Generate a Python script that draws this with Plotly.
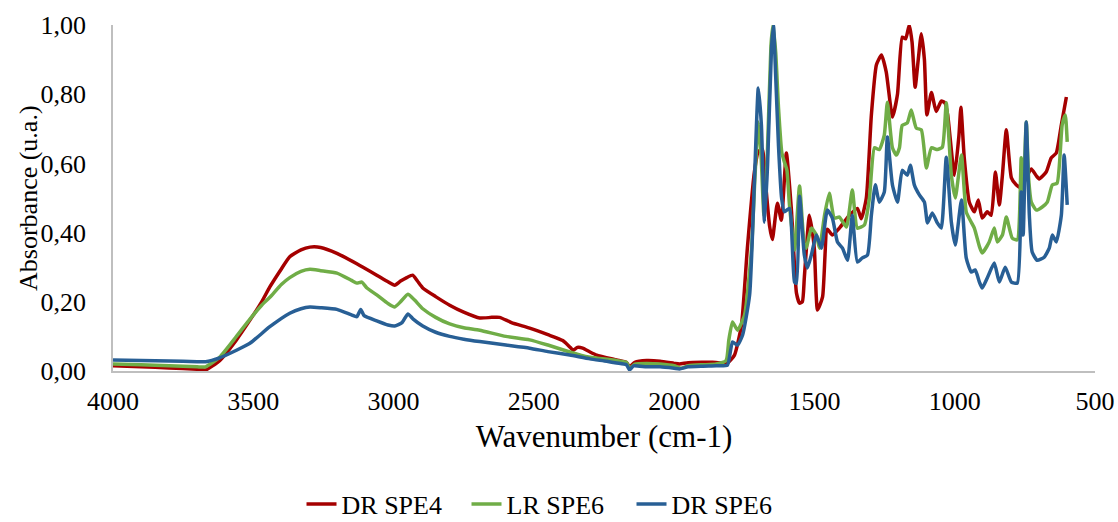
import plotly.graph_objects as go

# FTIR spectra: wavenumber (cm-1) and normalised absorbance (u.a.)
wn_dr_spe4 = [4000, 3900, 3800, 3700, 3670, 3620, 3560, 3512, 3470, 3441, 3400, 3370, 3330, 3298,
              3260, 3202, 3131, 3060, 3020, 2996, 2975, 2953, 2932, 2915, 2896, 2850, 2800, 2750,
              2693, 2650, 2622, 2580, 2515, 2450, 2397, 2370, 2360, 2345, 2326, 2300, 2276, 2205,
              2170, 2159, 2140, 2098, 2050, 2000, 1981, 1950, 1900, 1863, 1828, 1810, 1785, 1760,
              1739, 1714, 1700, 1685, 1675, 1660, 1650, 1632, 1618, 1600, 1582, 1564, 1553, 1543,
              1536, 1518, 1507, 1500, 1489, 1471, 1454, 1436, 1411, 1375, 1347, 1333, 1315, 1297,
              1279, 1261, 1244, 1222, 1204, 1187, 1175, 1162, 1152, 1141, 1130, 1119, 1108, 1099,
              1083, 1066, 1048, 1035, 1025, 1001, 985, 978, 966, 948, 930, 916, 902, 884, 870, 855,
              841, 830, 816, 798, 781, 763, 745, 727, 710, 699, 674, 656, 638, 620, 602]
abs_dr_spe4 = [0.015, 0.012, 0.009, 0.005, 0.003, 0.03, 0.09, 0.147, 0.2, 0.243, 0.295, 0.33, 0.35, 0.358,
               0.357, 0.34, 0.31, 0.277, 0.258, 0.248, 0.26, 0.27, 0.277, 0.26, 0.24, 0.215, 0.19, 0.17,
               0.153, 0.155, 0.155, 0.14, 0.124, 0.105, 0.088, 0.068, 0.06, 0.068, 0.066, 0.055, 0.046, 0.032,
               0.025, 0.012, 0.025, 0.03, 0.028, 0.022, 0.02, 0.024, 0.025, 0.025, 0.023, 0.023, 0.046, 0.133,
               0.355, 0.575, 0.635, 0.64, 0.55, 0.42, 0.38, 0.485, 0.436, 0.63, 0.465, 0.225, 0.196, 0.2,
               0.27, 0.45, 0.40, 0.35, 0.176, 0.214, 0.41, 0.393, 0.413, 0.45, 0.47, 0.44, 0.5, 0.74,
               0.885, 0.913, 0.864, 0.734, 0.80, 0.965, 0.96, 1.0, 0.95, 0.82, 0.9, 0.975, 0.9, 0.74,
               0.805, 0.75, 0.78, 0.775, 0.74, 0.566, 0.68, 0.762, 0.616, 0.488, 0.46, 0.494, 0.442, 0.46, 0.45, 0.575,
               0.48, 0.566, 0.697, 0.558, 0.538, 0.529, 0.56, 0.584, 0.565, 0.555, 0.575, 0.616, 0.63, 0.711, 0.792]

wn_lr_spe6 = [4000, 3900, 3800, 3700, 3670, 3620, 3560, 3512, 3470, 3441, 3400, 3370, 3330, 3298,
              3260, 3202, 3150, 3131, 3113, 3095, 3060, 3020, 2996, 2975, 2949, 2925, 2896, 2850,
              2800, 2750, 2693, 2600, 2515, 2450, 2372, 2330, 2300, 2205, 2170, 2159, 2140, 2098,
              2050, 2000, 1975, 1950, 1900, 1850, 1815, 1805, 1792, 1774, 1749, 1724, 1712, 1700,
              1690, 1680, 1668, 1655, 1648, 1638, 1628, 1616, 1607, 1598, 1589, 1571, 1553, 1536,
              1529, 1511, 1493, 1482, 1464, 1447, 1429, 1411, 1386, 1365, 1347, 1322, 1304, 1286,
              1269, 1251, 1240, 1222, 1208, 1197, 1187, 1169, 1155, 1137, 1119, 1101, 1083, 1062,
              1044, 1030, 1012, 998, 976, 959, 941, 930, 912, 902, 877, 859, 848, 830, 816, 795,
              777, 763, 756, 745, 736, 727, 709, 688, 670, 652, 635, 617, 606, 599]
abs_lr_spe6 = [0.02, 0.018, 0.015, 0.012, 0.012, 0.04, 0.1, 0.15, 0.19, 0.213, 0.25, 0.27, 0.288, 0.294,
               0.29, 0.283, 0.262, 0.254, 0.257, 0.24, 0.22, 0.195, 0.185, 0.2, 0.222, 0.205, 0.18, 0.155,
               0.136, 0.125, 0.118, 0.1, 0.09, 0.075, 0.055, 0.045, 0.04, 0.03, 0.025, 0.008, 0.02, 0.022,
               0.02, 0.015, 0.008, 0.015, 0.018, 0.02, 0.03, 0.09, 0.142, 0.118, 0.162, 0.355, 0.56, 0.72,
               0.62, 0.45, 0.62, 0.94, 1.0, 0.92, 0.76, 0.63, 0.604, 0.58, 0.48, 0.35, 0.535, 0.364,
               0.355, 0.413, 0.393, 0.355, 0.45, 0.514, 0.442, 0.445, 0.416, 0.523, 0.413, 0.422, 0.5, 0.645,
               0.64, 0.682, 0.777, 0.645, 0.624, 0.645, 0.71, 0.717, 0.754, 0.702, 0.697, 0.587, 0.645, 0.64,
               0.647, 0.775, 0.566, 0.5, 0.624, 0.46, 0.43, 0.413, 0.36, 0.341, 0.373, 0.413, 0.373, 0.393, 0.445, 0.384,
               0.379, 0.616, 0.5, 0.72, 0.55, 0.488, 0.465, 0.474, 0.488, 0.538, 0.543, 0.711, 0.74, 0.662]

wn_dr_spe6 = [4000, 3900, 3800, 3700, 3670, 3620, 3560, 3512, 3441, 3370, 3330, 3298, 3260, 3202,
              3150, 3131, 3117, 3105, 3060, 3020, 2996, 2970, 2949, 2930, 2896, 2850, 2800, 2750,
              2693, 2600, 2515, 2450, 2372, 2300, 2240, 2205, 2170, 2159, 2145, 2098, 2050, 2000,
              1981, 1950, 1900, 1850, 1810, 1792, 1774, 1756, 1731, 1714, 1700, 1689, 1678, 1667,
              1653, 1646, 1638, 1628, 1617, 1607, 1589, 1571, 1564, 1553, 1536, 1525, 1511, 1493,
              1475, 1454, 1436, 1418, 1400, 1382, 1365, 1347, 1329, 1311, 1297, 1283, 1269, 1251,
              1240, 1222, 1204, 1187, 1169, 1158, 1144, 1126, 1108, 1097, 1080, 1062, 1048, 1030,
              1012, 998, 976, 959, 941, 927, 912, 902, 884, 859, 841, 820, 798, 777, 763, 756,
              745, 734, 724, 706, 681, 663, 652, 638, 620, 610, 599]
abs_dr_spe6 = [0.032, 0.03, 0.029, 0.027, 0.027, 0.038, 0.06, 0.08, 0.128, 0.167, 0.18, 0.185, 0.183, 0.178,
               0.162, 0.157, 0.178, 0.16, 0.145, 0.133, 0.13, 0.14, 0.165, 0.15, 0.13, 0.112, 0.1, 0.092,
               0.085, 0.075, 0.066, 0.056, 0.046, 0.035, 0.028, 0.023, 0.018, 0.003, 0.015, 0.012, 0.012, 0.008,
               0.006, 0.012, 0.014, 0.015, 0.017, 0.084, 0.075, 0.104, 0.22, 0.546, 0.818, 0.711, 0.43, 0.595,
               0.933, 1.0, 0.85, 0.65, 0.5, 0.46, 0.47, 0.257, 0.254, 0.505, 0.335, 0.298, 0.335, 0.393,
               0.355, 0.465, 0.442, 0.373, 0.355, 0.32, 0.45, 0.315, 0.327, 0.335, 0.45, 0.538, 0.488, 0.517,
               0.676, 0.538, 0.488, 0.58, 0.566, 0.595, 0.538, 0.509, 0.488, 0.428, 0.457, 0.428, 0.413, 0.618,
               0.43, 0.364, 0.494, 0.327, 0.286, 0.292, 0.257, 0.24, 0.269, 0.312, 0.257, 0.30, 0.257, 0.254, 0.517, 0.393,
               0.72, 0.45, 0.344, 0.32, 0.329, 0.355, 0.393, 0.373, 0.45, 0.624, 0.48]

series = [
    ("DR SPE4", wn_dr_spe4, abs_dr_spe4, "#A50000"),
    ("LR SPE6", wn_lr_spe6, abs_lr_spe6, "#70AD47"),
    ("DR SPE6", wn_dr_spe6, abs_dr_spe6, "#285F95"),
]

font_family = "Liberation Serif, Times New Roman, serif"
font_size = 26

fig = go.Figure()
for name, wn, ab, color in series:
    fig.add_trace(go.Scatter(
        x=wn, y=ab, name=name, mode="lines",
        line=dict(color=color, width=3.5, shape="spline", smoothing=0.5),
        cliponaxis=False,
    ))

fig.update_layout(
    width=1118, height=522,
    margin=dict(l=113, r=23, t=25, b=151, autoexpand=False),
    paper_bgcolor="white", plot_bgcolor="white",
    separators=", ",
    font=dict(family=font_family, size=font_size, color="black"),
    showlegend=True,
    legend=dict(orientation="h", x=0.444, xanchor="center", y=-0.385, yanchor="middle",
                font=dict(family=font_family, size=font_size, color="black"),
                entrywidth=120, traceorder="normal"),
    annotations=[dict(
        text="Absorbance (u.a.)", textangle=-90,
        xref="paper", yref="paper", x=-0.0866, y=0.5,
        xanchor="center", yanchor="middle", showarrow=False,
        font=dict(family=font_family, size=font_size, color="black"),
    )],
)

fig.update_xaxes(
    range=[4000, 500], dtick=500, tick0=500,
    showgrid=False, zeroline=False,
    showline=True, linecolor="#BFBFBF", linewidth=1.5,
    ticks="", ticklabelstandoff=6,
    title=dict(text="Wavenumber (cm-1)", standoff=10),
    automargin=False,
)
fig.update_yaxes(
    range=[0, 1], dtick=0.2, tickformat=".2f",
    showgrid=False, zeroline=False,
    showline=True, linecolor="#BFBFBF", linewidth=1.5,
    ticks="", ticklabelstandoff=20,
    automargin=False,
)

fig.write_html("out.html")
